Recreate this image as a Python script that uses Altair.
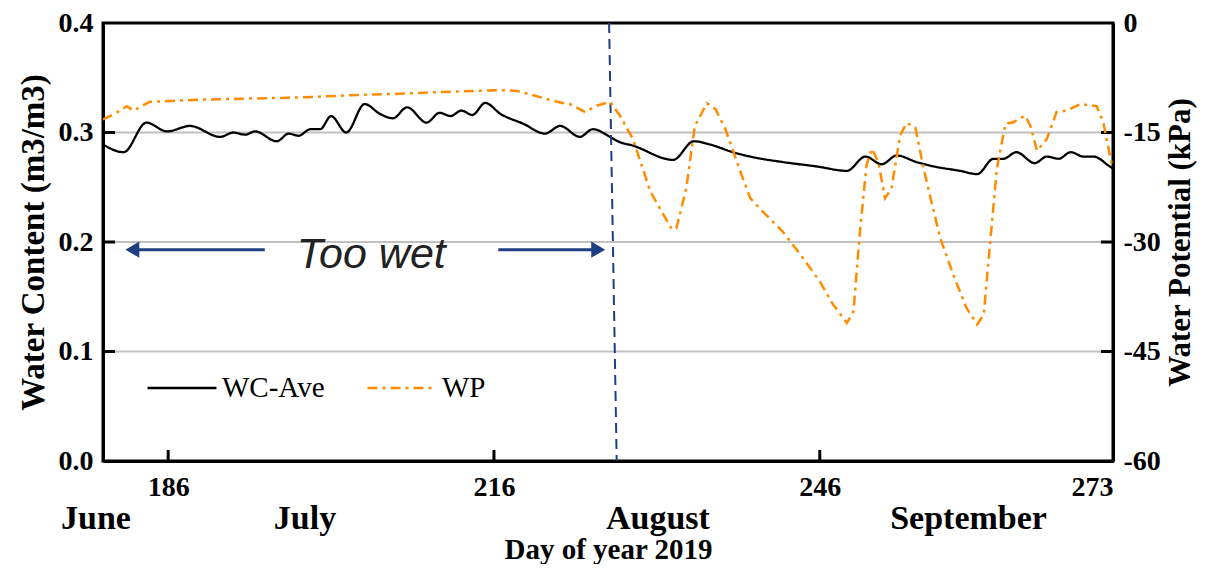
import altair as alt
import pandas as pd

# ---------------- data ----------------
wc_day = [180.0, 181.9, 184.0, 185.9, 188.0, 190.8, 192.0, 193.1, 194.0, 196.0,
          197.1, 198.0, 199.1, 200.0, 201.0, 202.4, 204.1, 205.5, 206.7, 208.0,
          209.8, 211.0, 212.0, 213.0, 214.0, 215.2, 216.6, 218.7, 220.7, 222.1,
          223.9, 225.1, 226.7, 227.4, 228.8, 232.5, 234.4, 235.9, 238.0, 239.6,
          242.6, 245.7, 248.5, 250.2, 251.7, 253.1, 254.9, 256.5, 258.9, 260.5,
          262.0, 262.9, 264.1, 265.8, 266.9, 268.0, 269.1, 270.3, 271.2, 272.7, 273.0]
wc_val = [0.289, 0.282, 0.309, 0.301, 0.306, 0.296, 0.300, 0.298, 0.301, 0.292,
          0.299, 0.297, 0.303, 0.303, 0.315, 0.300, 0.326, 0.317, 0.313, 0.323,
          0.309, 0.318, 0.315, 0.320, 0.316, 0.327, 0.317, 0.308, 0.299, 0.306,
          0.296, 0.303, 0.296, 0.292, 0.288, 0.275, 0.292, 0.289, 0.282, 0.278,
          0.273, 0.269, 0.265, 0.278, 0.271, 0.279, 0.273, 0.269, 0.265, 0.262,
          0.276, 0.276, 0.282, 0.272, 0.278, 0.276, 0.282, 0.278, 0.278, 0.269, 0.267]

wp_day = [180.0, 181.0, 182.2, 182.8, 184.3, 188.9, 198.1, 204.3, 207.3, 210.4,
          216.6, 218.1, 219.6, 222.1, 223.0, 224.4, 225.5, 226.7, 227.6, 228.8,
          230.4, 232.4, 232.8, 233.7, 234.5, 235.6, 236.4, 237.3, 238.7, 239.6,
          240.8, 242.6, 244.2, 246.0, 247.2, 248.5, 249.1, 249.7, 250.3, 250.8,
          251.4, 252.0, 252.6, 253.4, 254.0, 254.8, 255.5, 256.2, 257.1, 258.3,
          259.5, 260.5, 261.1, 261.7, 262.3, 263.1, 263.8, 264.9, 265.4, 266.0,
          266.9, 267.8, 268.7, 270.0, 271.5, 272.1, 272.9]
wp_val = [-13.2, -12.5, -11.4, -12.0, -10.8, -10.5, -10.2, -9.8, -9.7, -9.5,
          -9.2, -9.3, -9.9, -10.9, -11.1, -12.2, -11.3, -10.8, -12.7, -15.9,
          -23.1, -28.3, -28.1, -22.7, -14.1, -11.0, -11.8, -14.5, -20.4, -24.0,
          -25.9, -28.6, -31.7, -35.4, -38.5, -41.1, -39.5, -28.6, -19.5, -17.2,
          -19.1, -24.0, -22.7, -15.4, -13.7, -14.3, -19.5, -24.0, -29.5, -34.5,
          -39.0, -41.3, -39.9, -29.9, -20.0, -13.8, -13.6, -12.7, -14.1, -17.5,
          -15.9, -12.2, -12.0, -11.1, -11.4, -13.6, -19.5]

series_names = ["WC-Ave", "WP"]
x_ticks = [186, 216, 246, 273]
wc_ticks = [0.0, 0.1, 0.2, 0.3, 0.4]
wp_ticks = [-60, -45, -30, -15, 0]
grid_vals = [0.1, 0.2, 0.3]
inner_x_ticks = [186, 216, 246]

months = ["June", "July", "August", "September"]
month_day = [179.35, 198.6, 231.1, 259.7]

# annotation data ("Too wet" period)
arrow_start = [194.9, 216.4]
arrow_end = [182.7, 225.6]
arrow_head_day = [182.7, 225.6]
arrow_head_shape = ["triangle-left", "triangle-right"]
arrow_level = [0.193, 0.193]
wet_text = ["Too wet"]
wet_text_day = [204.7]
wet_text_level = [0.176]
boundary_day_top = [226.6]
boundary_day_bottom = [227.3]

# ---------------- style ----------------
W, H = 1010, 438
SERIF = "Liberation Serif"
NAVY = "#1f3f80"
ORANGE = "#FF8C00"

xscale = alt.Scale(domain=[180, 273], nice=False, zero=False)
yl = alt.Scale(domain=[0, 0.4], nice=False, zero=False)
yr = alt.Scale(domain=[-60, 0], nice=False, zero=False)

legend = alt.Legend(
    orient="none", legendX=43, legendY=329, direction="horizontal", title=None,
    symbolType="stroke", symbolSize=4761, symbolStrokeWidth=2.5,
    labelFont=SERIF, labelFontSize=29, labelFontWeight="normal", labelColor="black",
    labelOffset=4, columnPadding=37, padding=0,
)
color = alt.Color("series:N", scale=alt.Scale(domain=series_names, range=["#000000", ORANGE]),
                  legend=legend)
dash = alt.StrokeDash("series:N", scale=alt.Scale(domain=series_names, range=[[1, 0], [10, 5, 3, 5]]),
                      legend=legend)

wc_df = pd.DataFrame({"day": wc_day, "value": wc_val, "series": series_names[0]})
wp_df = pd.DataFrame({"day": wp_day, "value": wp_val, "series": series_names[1]})

# gridlines
grid = alt.Chart(pd.DataFrame({"v": grid_vals})).mark_rule(color="#c0c0c0", strokeWidth=2).encode(
    y=alt.Y("v:Q", scale=yl, axis=None))

wc_line = alt.Chart(wc_df).mark_line(strokeWidth=2.3, interpolate="monotone").encode(
    x=alt.X("day:Q", scale=xscale, axis=alt.Axis(
        orient="bottom", values=x_ticks, format="d", ticks=False, grid=False, labelFont=SERIF,
        labelFontSize=28, labelFontWeight="bold", labelColor="black", labelPadding=12,
        domainColor="black", domainWidth=3, title="Day of year 2019", titleFont=SERIF,
        titleFontSize=29, titleFontWeight="bold", titleColor="black", titlePadding=34)),
    y=alt.Y("value:Q", scale=yl, axis=alt.Axis(
        orient="left", values=wc_ticks, format=".1f", ticks=False, grid=False, labelFont=SERIF,
        labelFontSize=28, labelFontWeight="bold", labelColor="black", labelPadding=10,
        domainColor="black", domainWidth=3, title="Water Content (m3/m3)", titleFont=SERIF,
        titleFontSize=33, titleFontWeight="bold", titleColor="black", titlePadding=8)),
    color=color, strokeDash=dash)

left_ticks = alt.Chart(pd.DataFrame({"v": grid_vals})).mark_rule(color="black", strokeWidth=3).encode(
    y=alt.Y("v:Q", scale=yl, axis=None), x=alt.value(0), x2=alt.value(12))
right_ticks = alt.Chart(pd.DataFrame({"v": grid_vals})).mark_rule(color="black", strokeWidth=3).encode(
    y=alt.Y("v:Q", scale=yl, axis=None), x=alt.value(W - 12), x2=alt.value(W))
bottom_ticks = alt.Chart(pd.DataFrame({"d": inner_x_ticks})).mark_rule(color="black", strokeWidth=3).encode(
    x=alt.X("d:Q", scale=xscale, axis=None), y=alt.value(H), y2=alt.value(H - 11))

arrows_df = pd.DataFrame({"a": arrow_start, "b": arrow_end, "lvl": arrow_level,
                          "hd": arrow_head_day, "shape": arrow_head_shape})
shafts = alt.Chart(arrows_df).mark_rule(color=NAVY, strokeWidth=3).encode(
    x=alt.X("a:Q", scale=xscale, axis=None), x2="b:Q",
    y=alt.Y("lvl:Q", scale=yl, axis=None))
heads = alt.Chart(arrows_df).mark_point(filled=True, color=NAVY, opacity=1, size=260).encode(
    x=alt.X("hd:Q", scale=xscale, axis=None), y=alt.Y("lvl:Q", scale=yl, axis=None),
    shape=alt.Shape("shape:N", scale=None, legend=None))

wet = alt.Chart(pd.DataFrame({"t": wet_text, "d": wet_text_day, "l": wet_text_level})).mark_text(
    font="Liberation Sans", fontStyle="italic", fontSize=43, color="#222222",
    align="center", baseline="alphabetic").encode(
    x=alt.X("d:Q", scale=xscale, axis=None), y=alt.Y("l:Q", scale=yl, axis=None), text="t:N")

boundary = alt.Chart(pd.DataFrame({"d1": boundary_day_top, "d2": boundary_day_bottom,
                                   "top": [0.4], "bot": [0.0]})).mark_rule(
    color=NAVY, strokeWidth=2, strokeDash=[10, 6]).encode(
    x=alt.X("d1:Q", scale=xscale, axis=None), x2="d2:Q",
    y=alt.Y("top:Q", scale=yl, axis=None), y2="bot:Q")

month_text = alt.Chart(pd.DataFrame({"m": months, "d": month_day})).mark_text(
    font=SERIF, fontSize=34, fontWeight="bold", color="black", align="center",
    baseline="middle").encode(
    x=alt.X("d:Q", scale=xscale, axis=None), y=alt.value(H + 58), text="m:N")

wp_line = alt.Chart(wp_df).mark_line(strokeWidth=2.5).encode(
    x=alt.X("day:Q", scale=xscale, axis=None),
    y=alt.Y("value:Q", scale=yr, axis=alt.Axis(
        orient="right", values=wp_ticks, ticks=False, grid=False, labelFont=SERIF,
        labelExpr="'' + datum.value",
        labelFontSize=28, labelFontWeight="bold", labelColor="black", labelPadding=10,
        domainColor="black", domainWidth=3, title="Water Potential (kPa)", titleFont=SERIF,
        titleFontSize=31, titleFontWeight="bold", titleColor="black", titleAngle=270,
        titleBaseline="top", titlePadding=5)),
    color=color, strokeDash=dash)

chart = alt.layer(grid, wc_line, left_ticks, right_ticks, bottom_ticks, shafts, heads, wet,
                  boundary, month_text, wp_line).resolve_scale(y="independent").resolve_axis(
    x="independent", y="independent").properties(
    width=W, height=H,
    autosize=alt.AutoSizeParams(type="none"),
    padding={"left": 95, "top": 15, "right": 85, "bottom": 103},
    background="white",
).configure_view(stroke="black", strokeWidth=3)

chart.save("out.html", embed_options={"renderer": "svg", "actions": False})
